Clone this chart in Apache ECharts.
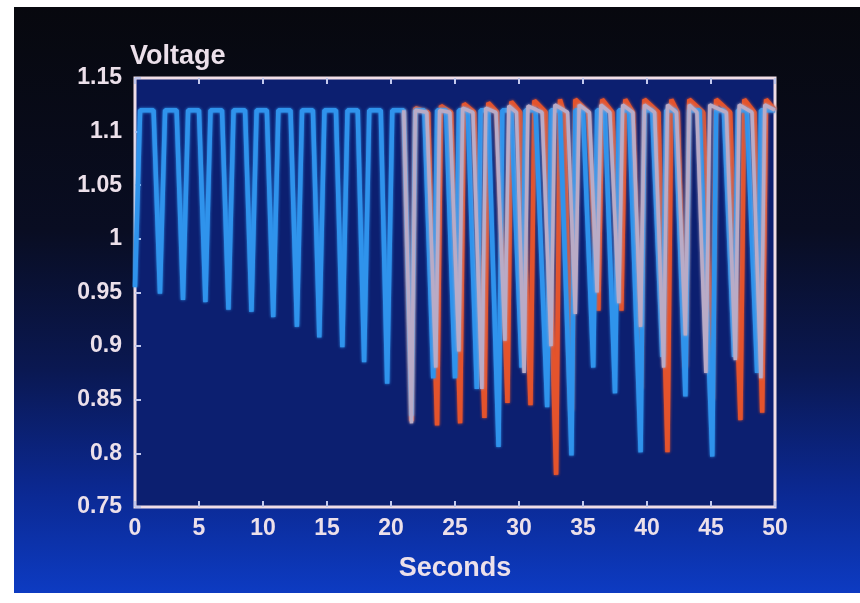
<!DOCTYPE html>
<html>
<head>
<meta charset="utf-8">
<script src="https://cdn.jsdelivr.net/npm/echarts@6/dist/echarts.min.js"></script>
<style>
  html, body { margin: 0; padding: 0; background: #ffffff; }
  #container {
    position: absolute; left: 14px; top: 7px; width: 846px; height: 586px;
    background: linear-gradient(to bottom, #07080e 0%, #090d22 38%, #0a1852 62%, #0b2890 82%, #0d3bc2 100%);
  }
</style>
</head>
<body>
<div id="container"></div>
<script>
// axis ticks
var xTicks = [0, 5, 10, 15, 20, 25, 30, 35, 40, 45, 50];
var yTicks = [0.75, 0.8, 0.85, 0.9, 0.95, 1, 1.05, 1.1, 1.15];

// [seconds, voltage] vertices
var blueCase = [
  [0.0, 0.955], [0.4, 1.12], [1.45, 1.12],
  [1.95, 0.949], [2.35, 1.12], [3.25, 1.12],
  [3.75, 0.943], [4.15, 1.12], [5.0, 1.12],
  [5.5, 0.941], [5.9, 1.12], [6.8, 1.12],
  [7.3, 0.934], [7.7, 1.12], [8.6, 1.12],
  [9.1, 0.932], [9.5, 1.12], [10.3, 1.12],
  [10.8, 0.927], [11.2, 1.12], [12.15, 1.12],
  [12.65, 0.918], [13.05, 1.12], [13.9, 1.12],
  [14.4, 0.908], [14.8, 1.12], [15.7, 1.12],
  [16.2, 0.899], [16.6, 1.12], [17.4, 1.12],
  [17.9, 0.885], [18.3, 1.12], [19.2, 1.12],
  [19.7, 0.865], [20.1, 1.12], [21.0, 1.12],
  [21.6, 0.835], [21.9, 1.12], [22.6, 1.12],
  [23.3, 0.87], [23.6, 1.12], [24.3, 1.12],
  [25.0, 0.87], [25.3, 1.12], [26.0, 1.12],
  [26.7, 0.86], [27.0, 1.12], [27.6, 1.12],
  [28.4, 0.806], [28.7, 1.12], [29.4, 1.12],
  [30.2, 0.88], [30.5, 1.12], [31.3, 1.12],
  [32.2, 0.843], [32.5, 1.12], [33.2, 1.12],
  [34.1, 0.798], [34.4, 1.12], [35.0, 1.12],
  [35.8, 0.88], [36.1, 1.12], [36.7, 1.12],
  [37.5, 0.856], [37.8, 1.12], [38.6, 1.12],
  [39.5, 0.801], [39.8, 1.12], [40.4, 1.12],
  [41.2, 0.89], [41.5, 1.12], [42.2, 1.12],
  [43.0, 0.853], [43.3, 1.12], [44.1, 1.12],
  [45.1, 0.797], [45.4, 1.12], [46.0, 1.12],
  [46.8, 0.89], [47.1, 1.12], [47.8, 1.12],
  [48.6, 0.875], [48.9, 1.12], [50.0, 1.12]
];

var redCase = [
  [21.0, 1.12], [21.6, 0.83], [21.9, 1.122], [22.9, 1.118],
  [23.6, 0.826], [23.9, 1.124], [24.7, 1.118],
  [25.4, 0.828], [25.7, 1.126], [26.5, 1.118],
  [27.3, 0.833], [27.6, 1.127], [28.3, 1.118],
  [29.1, 0.847], [29.4, 1.128], [30.1, 1.118],
  [30.9, 0.845], [31.2, 1.129], [32.1, 1.118],
  [32.9, 0.78], [33.2, 1.13], [33.5, 1.118],
  [34.1, 0.84], [34.4, 1.13], [35.4, 1.118],
  [36.2, 0.933], [36.5, 1.13], [37.3, 1.118],
  [38.0, 0.933], [38.3, 1.13], [38.9, 1.118],
  [39.5, 0.86], [39.8, 1.13], [40.9, 1.118],
  [41.6, 0.801], [41.9, 1.13], [42.4, 1.118],
  [43.0, 0.88], [43.3, 1.13], [44.4, 1.118],
  [45.1, 0.85], [45.4, 1.13], [46.5, 1.118],
  [47.3, 0.831], [47.6, 1.13], [48.4, 1.118],
  [49.0, 0.838], [49.3, 1.13], [50.0, 1.12]
];

var paleCase = [
  [21.0, 1.12], [21.6, 0.828], [21.9, 1.12], [22.8, 1.118],
  [23.5, 0.88], [23.8, 1.12], [24.6, 1.118],
  [25.3, 0.895], [25.6, 1.122], [26.4, 1.118],
  [27.1, 0.86], [27.4, 1.122], [28.2, 1.118],
  [28.9, 0.905], [29.2, 1.124], [29.8, 1.118],
  [30.4, 0.875], [30.7, 1.124], [31.8, 1.118],
  [32.5, 0.9], [32.8, 1.125], [33.8, 1.118],
  [34.4, 0.93], [34.7, 1.125], [35.5, 1.118],
  [36.1, 0.95], [36.4, 1.125], [37.1, 1.118],
  [37.8, 0.94], [38.1, 1.125], [38.9, 1.118],
  [39.5, 0.918], [39.8, 1.125], [40.6, 1.118],
  [41.3, 0.88], [41.6, 1.125], [42.3, 1.118],
  [43.0, 0.91], [43.3, 1.125], [43.9, 1.118],
  [44.6, 0.875], [44.9, 1.125], [46.2, 1.118],
  [46.9, 0.887], [47.2, 1.125], [48.2, 1.118],
  [48.9, 0.87], [49.2, 1.125], [50.0, 1.12]
];

var labelColor = '#ece0ea';
var tickColor = '#c3c9ee';
var fontFam = '"Liberation Sans", Arial, sans-serif';

function lineSeries(name, data, color, width) {
  return {
    name: name,
    type: 'line',
    data: data,
    showSymbol: false,
    symbol: 'none',
    animation: false,
    lineStyle: { color: color, width: width, shadowColor: color, shadowBlur: 3 }
  };
}

var dom = document.getElementById('container');
var myChart = echarts.init(dom);
var option = {
  animation: false,
  grid: {
    show: true,
    left: 121, right: 85, top: 71, bottom: 86,
    backgroundColor: '#0c1f70',
    borderColor: '#f0dde6',
    borderWidth: 3
  },
  xAxis: [{
    type: 'value',
    min: xTicks[0], max: xTicks[xTicks.length - 1], interval: 5,
    name: 'Seconds',
    nameLocation: 'middle',
    nameGap: 48,
    nameTextStyle: { color: labelColor, fontSize: 27, fontWeight: 'bold', fontFamily: fontFam },
    axisLine: { show: false },
    axisTick: { show: true, inside: true, length: 6, lineStyle: { color: tickColor, width: 2 } },
    axisLabel: { color: labelColor, fontSize: 23, fontWeight: 'bold', fontFamily: fontFam, margin: 10 },
    splitLine: { show: false }
  }, {
    type: 'value', position: 'top',
    min: xTicks[0], max: xTicks[xTicks.length - 1], interval: 5,
    axisLine: { show: false },
    axisTick: { show: true, inside: true, length: 6, lineStyle: { color: tickColor, width: 2 } },
    axisLabel: { show: false },
    splitLine: { show: false }
  }],
  yAxis: [{
    type: 'value',
    min: yTicks[0], max: yTicks[yTicks.length - 1], interval: 0.05,
    name: 'Voltage',
    nameLocation: 'end',
    nameGap: 8,
    nameTextStyle: { color: labelColor, fontSize: 27, fontWeight: 'bold', fontFamily: fontFam, align: 'left', padding: [0, 0, 0, -5] },
    axisLine: { show: false },
    axisTick: { show: true, inside: true, length: 6, lineStyle: { color: tickColor, width: 2 } },
    axisLabel: {
      color: labelColor, fontSize: 23, fontWeight: 'bold', fontFamily: fontFam, margin: 13,
      showMinLabel: true, showMaxLabel: true,
      formatter: function (v) { return String(+v.toFixed(2)); }
    },
    splitLine: { show: false }
  }],
  series: [
    lineSeries('red', redCase, '#e4532c', 4.5),
    lineSeries('blue', blueCase, '#2f93ec', 4.5),
    lineSeries('pale', paleCase, '#b9abc6', 3.5)
  ]
};
myChart.setOption(option, true);
</script>
</body>
</html>
